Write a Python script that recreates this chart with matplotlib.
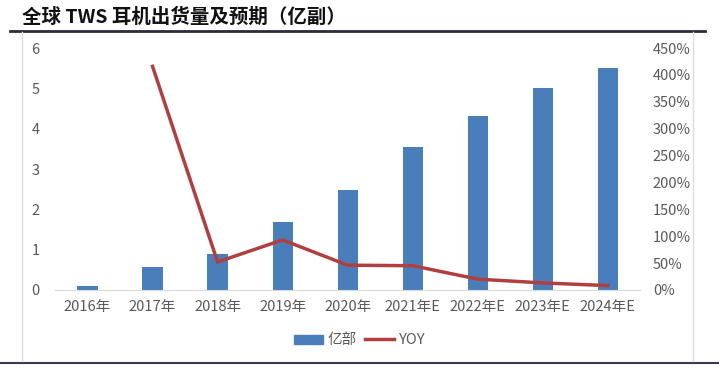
import matplotlib.pyplot as plt
from matplotlib.lines import Line2D
from matplotlib.patches import Patch
import numpy as np

plt.rcParams['font.family'] = ['Noto Sans CJK SC', 'DejaVu Sans']

years = ['2016年', '2017年', '2018年', '2019年', '2020年', '2021年E', '2022年E', '2023年E', '2024年E']
shipments = [0.1, 0.57, 0.89, 1.69, 2.48, 3.55, 4.32, 5.01, 5.51]
yoy = [np.nan, 4.16, 0.52, 0.93, 0.46, 0.45, 0.20, 0.13, 0.08]

bar_color = '#4a7ebb'
line_color = '#b0403f'
tick_color = '#595959'

fig = plt.figure(figsize=(7.19, 3.76), dpi=100)

# title and frame lines
fig.text(0.031, 0.953, '全球 TWS 耳机出货量及预期（亿副）', fontsize=14, fontweight='bold',
         ha='left', va='center', color='#111111')
fig.add_artist(Line2D([0.014, 0.98], [0.918, 0.918], color='#2b2b3a', lw=2))
fig.add_artist(Line2D([0.0, 1.0], [0.035, 0.035], color='#3a3a4a', lw=1.5))
fig.add_artist(Line2D([0.031, 0.031], [0.04, 0.915], color='#dddddd', lw=1))
fig.add_artist(Line2D([0.964, 0.964], [0.04, 0.915], color='#dddddd', lw=1))

ax = fig.add_axes([0.0765, 0.229, 0.814, 0.643])
x = np.arange(len(years))
ax.bar(x, shipments, width=0.31, color=bar_color, zorder=2)
ax.set_xlim(-0.5, len(years) - 0.5)
ax.set_ylim(0, 6)
ax.set_yticks(range(0, 7))
ax.set_xticks(x)
ax.set_xticklabels(years)
for s in ['top', 'right', 'left']:
    ax.spines[s].set_visible(False)
ax.spines['bottom'].set_color('#d9d9d9')
ax.tick_params(axis='both', length=0, colors=tick_color, labelsize=10.5)
ax.tick_params(axis='x', pad=7)
ax.tick_params(axis='y', pad=11)

ax2 = ax.twinx()
ax2.plot(x, yoy, color=line_color, lw=2.5, zorder=3)
ax2.set_ylim(0, 4.5)
ax2.set_yticks(np.arange(0, 4.51, 0.5))
ax2.set_yticklabels(['%d%%' % round(v * 100) for v in np.arange(0, 4.51, 0.5)])
for s in ['top', 'right', 'left', 'bottom']:
    ax2.spines[s].set_visible(False)
ax2.tick_params(axis='y', length=0, colors=tick_color, labelsize=10.5, pad=9)

handles = [Patch(color=bar_color), Line2D([0], [0], color=line_color, lw=2.5)]
fig.legend(handles, ['亿部', 'YOY'], loc='center', bbox_to_anchor=(0.5, 0.095), ncol=2,
           frameon=False, fontsize=10.5, labelcolor=tick_color, handlelength=2.0,
           handleheight=0.6, columnspacing=0.6, handletextpad=0.3)

fig.savefig('out.png', dpi=100)
